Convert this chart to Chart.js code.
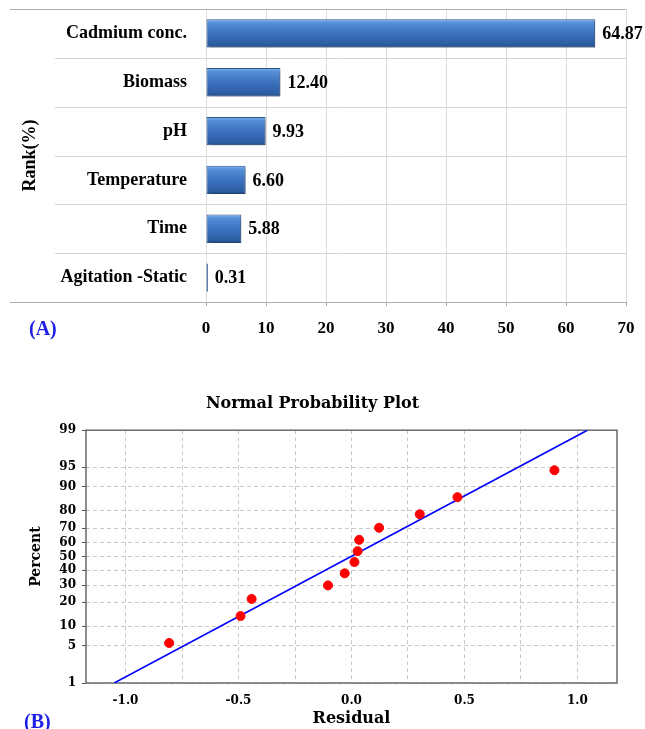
<!DOCTYPE html>
<html>
<head>
<meta charset="utf-8">
<script src="https://cdn.jsdelivr.net/npm/chart.js@4.4.1/dist/chart.umd.min.js"></script>
<style>
  html, body { margin: 0; padding: 0; background: #fff; }
  body { width: 645px; height: 729px; position: relative; overflow: hidden; }
  .box { position: absolute; left: 0; width: 645px; }
  #boxA { top: 0; height: 350px; }
  #boxB { top: 380px; height: 349px; }
  .tag { position: absolute; font: bold 20px 'Liberation Serif', 'Times New Roman', serif; color: #1e1ee6; line-height: 1; }
</style>
</head>
<body>
<div class="box" id="boxA"><canvas id="rankChart"></canvas></div>
<div class="box" id="boxB"><canvas id="probChart"></canvas></div>
<div class="tag" style="left:29px; top:318px;">(A)</div>
<div class="tag" style="left:24px; top:711px;">(B)</div>
<script>
// ---- data: (A) factor ranking ----
const factors = ['Cadmium conc.', 'Biomass', 'pH', 'Temperature', 'Time', 'Agitation -Static'];
const rankPct = [64.87, 12.40, 9.93, 6.60, 5.88, 0.31];

// ---- data: (B) normal probability plot ----
const residuals = [-0.807, -0.491, -0.442, -0.104, -0.030, 0.013, 0.027, 0.034, 0.122, 0.302, 0.469, 0.898];
const percents = [5.6, 13.7, 21.8, 29.8, 37.9, 46.0, 54.0, 62.1, 70.2, 78.2, 86.3, 94.4];
const fitResidual = [-1.05, 1.044];
const fitPercent = [1, 99];
const percentTicks = [1, 5, 10, 20, 30, 40, 50, 60, 70, 80, 90, 95, 99];
const residualTicks = [-1.0, -0.75, -0.5, -0.25, 0, 0.25, 0.5, 0.75, 1.0];

const serif = (size, lineHeight = 1.2) => ({ family: "'Liberation Serif', 'Times New Roman', serif", weight: 'bold', size, lineHeight });
const dvSerif = (size) => ({ family: "'DejaVu Serif', serif", weight: 'bold', size });

// inverse normal CDF (Acklam) - used for the probability axis
function probit(p) {
  const a = [-3.969683028665376e+01, 2.209460984245205e+02, -2.759285104469687e+02, 1.383577518672690e+02, -3.066479806614716e+01, 2.506628277459239e+00];
  const b = [-5.447609879822406e+01, 1.615858368580409e+02, -1.556989798598866e+02, 6.680131188771972e+01, -1.328068155288572e+01];
  const c = [-7.784894002430293e-03, -3.223964580411365e-01, -2.400758277161838e+00, -2.549732539343734e+00, 4.374664141464968e+00, 2.938163982698783e+00];
  const d = [7.784695709041462e-03, 3.224671290700398e-01, 2.445134137142996e+00, 3.754408661907416e+00];
  const pLow = 0.02425;
  let q, r;
  if (p < pLow) {
    q = Math.sqrt(-2 * Math.log(p));
    return (((((c[0]*q+c[1])*q+c[2])*q+c[3])*q+c[4])*q+c[5]) / ((((d[0]*q+d[1])*q+d[2])*q+d[3])*q+1);
  }
  if (p <= 1 - pLow) {
    q = p - 0.5; r = q * q;
    return (((((a[0]*r+a[1])*r+a[2])*r+a[3])*r+a[4])*r+a[5])*q / (((((b[0]*r+b[1])*r+b[2])*r+b[3])*r+b[4])*r+1);
  }
  q = Math.sqrt(-2 * Math.log(1 - p));
  return -(((((c[0]*q+c[1])*q+c[2])*q+c[3])*q+c[4])*q+c[5]) / ((((d[0]*q+d[1])*q+d[2])*q+d[3])*q+1);
}

// ---- (A) helpers ----
const BAR_PCT = 0.58;
const BAR_SOLID = '#3c72c0';

function barFill(context) {
  const chart = context.chart;
  const y = chart.scales && chart.scales.y;
  if (!y || context.type !== 'data') return BAR_SOLID;
  const step = y.getPixelForValue(1) - y.getPixelForValue(0);
  const c = y.getPixelForValue(context.dataIndex);
  const h = step * BAR_PCT / 2;
  if (!isFinite(c) || !isFinite(h) || h <= 0) return BAR_SOLID;
  const g = chart.ctx.createLinearGradient(0, c - h, 0, c + h);
  g.addColorStop(0, '#86b6ee');
  g.addColorStop(0.12, '#5590d8');
  g.addColorStop(0.5, '#3c72c0');
  g.addColorStop(0.88, '#2d5ea4');
  g.addColorStop(1, '#234d88');
  return g;
}

const rowLines = {
  id: 'rowLines',
  beforeDatasetsDraw(chart) {
    const { ctx, chartArea, scales: { y } } = chart;
    const half = (y.getPixelForValue(1) - y.getPixelForValue(0)) / 2;
    ctx.save();
    ctx.lineWidth = 1;
    for (let i = 0; i <= factors.length; i++) {
      const py = Math.round(y.getPixelForValue(i) - half) + 0.5;
      const outer = i === 0 || i === factors.length;
      ctx.strokeStyle = outer ? '#b0b0b0' : '#d4d4d4';
      ctx.beginPath();
      ctx.moveTo(outer ? 10 : 55, py);
      ctx.lineTo(chartArea.right, py);
      ctx.stroke();
    }
    ctx.restore();
  }
};

const barShadow = {
  id: 'barShadow',
  beforeDatasetDraw(chart) {
    const ctx = chart.ctx;
    ctx.save();
    ctx.shadowColor = 'rgba(0,0,0,0.35)';
    ctx.shadowBlur = 3;
    ctx.shadowOffsetX = 2;
    ctx.shadowOffsetY = 2;
  },
  afterDatasetDraw(chart) {
    chart.ctx.restore();
  }
};

const valueLabels = {
  id: 'valueLabels',
  afterDatasetsDraw(chart) {
    const ctx = chart.ctx;
    const meta = chart.getDatasetMeta(0);
    ctx.save();
    ctx.font = "bold 18px 'Liberation Serif', 'Times New Roman', serif";
    ctx.fillStyle = '#000';
    ctx.textAlign = 'left';
    ctx.textBaseline = 'middle';
    meta.data.forEach((bar, i) => {
      ctx.fillText(rankPct[i].toFixed(2), bar.x + 7, bar.y + 1);
    });
    ctx.restore();
  }
};

new Chart(document.getElementById('rankChart'), {
  type: 'bar',
  data: {
    labels: factors,
    datasets: [{
      data: rankPct,
      backgroundColor: barFill,
      borderColor: '#2a5690',
      borderWidth: 1,
      borderSkipped: false,
      categoryPercentage: 1,
      barPercentage: BAR_PCT
    }]
  },
  options: {
    indexAxis: 'y',
    responsive: true,
    maintainAspectRatio: false,
    animation: false,
    layout: { padding: { top: 9, right: 19, left: 10, bottom: 0 } },
    plugins: { legend: { display: false }, tooltip: { enabled: false } },
    scales: {
      x: {
        min: 0,
        max: 70,
        ticks: { stepSize: 10, color: '#000', font: serif(17, 1.65), padding: 9 },
        grid: { color: '#dcdcdc', tickLength: 4, tickColor: '#a6a6a6' },
        border: { color: '#a6a6a6' },
        afterFit: (s) => { s.height = 48; }
      },
      y: {
        ticks: { color: '#000', font: serif(18, 1), padding: 0 },
        // invisible tick marks push the labels away from the plot
        grid: { display: true, drawOnChartArea: false, drawTicks: true, tickLength: 19, color: 'rgba(0,0,0,0)', tickColor: 'rgba(0,0,0,0)' },
        border: { display: false },
        title: { display: true, text: 'Rank(%)', color: '#000', font: serif(18), padding: { top: 10, bottom: 0 } },
        afterFit: (s) => { s.width = 196; }
      }
    }
  },
  plugins: [rowLines, barShadow, valueLabels]
});

// ---- (B) normal probability plot ----
const frameBox = {
  id: 'frameBox',
  beforeDatasetsDraw(chart) {
    const { ctx, chartArea: a } = chart;
    ctx.save();
    ctx.strokeStyle = '#6a6a6a';
    ctx.lineWidth = 1.5;
    ctx.strokeRect(a.left, a.top, a.right - a.left, a.bottom - a.top);
    ctx.restore();
  }
};

new Chart(document.getElementById('probChart'), {
  type: 'scatter',
  data: {
    datasets: [{
      type: 'scatter',
      data: residuals.map((r, i) => ({ x: r, y: probit(percents[i] / 100) })),
      backgroundColor: '#ff0000',
      borderColor: '#ff0000',
      pointRadius: 4.5,
      pointHoverRadius: 4.5
    }, {
      type: 'line',
      data: fitResidual.map((r, i) => ({ x: r, y: probit(fitPercent[i] / 100) })),
      borderColor: '#0000ff',
      borderWidth: 1.6,
      pointRadius: 0,
      fill: false,
      tension: 0
    }]
  },
  options: {
    responsive: true,
    maintainAspectRatio: false,
    animation: false,
    layout: { padding: { left: 8, right: 28, top: 0, bottom: 0 } },
    plugins: {
      legend: { display: false },
      tooltip: { enabled: false },
      title: {
        display: true,
        text: 'Normal Probability Plot',
        color: '#000',
        font: dvSerif(16),
        padding: { top: 14, bottom: 17 }
      }
    },
    scales: {
      x: {
        type: 'linear',
        min: -1.175,
        max: 1.175,
        afterBuildTicks: (s) => { s.ticks = residualTicks.map(v => ({ value: v })); },
        ticks: {
          autoSkip: false,
          maxRotation: 0,
          color: '#000',
          font: dvSerif(12),
          padding: 11,
          callback: (v) => (Math.abs(v * 2 - Math.round(v * 2)) < 1e-9 ? v.toFixed(1) : '')
        },
        grid: { color: '#c8c8c8', drawTicks: false, borderDash: [4, 3] },
        border: { display: false, dash: [4, 3] },
        title: { display: true, text: 'Residual', color: '#000', font: dvSerif(16), padding: { top: 0, bottom: 1 } },
        afterFit: (s) => { s.height = 46; }
      },
      y: {
        type: 'linear',
        min: probit(0.01),
        max: probit(0.99),
        afterBuildTicks: (s) => { s.ticks = percentTicks.map(p => ({ value: probit(p / 100) })); },
        ticks: {
          autoSkip: false,
          color: '#000',
          font: dvSerif(12),
          padding: 6,
          callback: (v, i) => String(percentTicks[i])
        },
        grid: { color: '#c8c8c8', tickLength: 4, tickColor: '#555', tickBorderDash: [], borderDash: [4, 3] },
        border: { display: false, dash: [4, 3] },
        title: { display: true, text: 'Percent', color: '#000', font: dvSerif(14), padding: { top: 20, bottom: 0 } },
        afterFit: (s) => { s.width = 78; }
      }
    }
  },
  plugins: [frameBox]
});
</script>
</body>
</html>
